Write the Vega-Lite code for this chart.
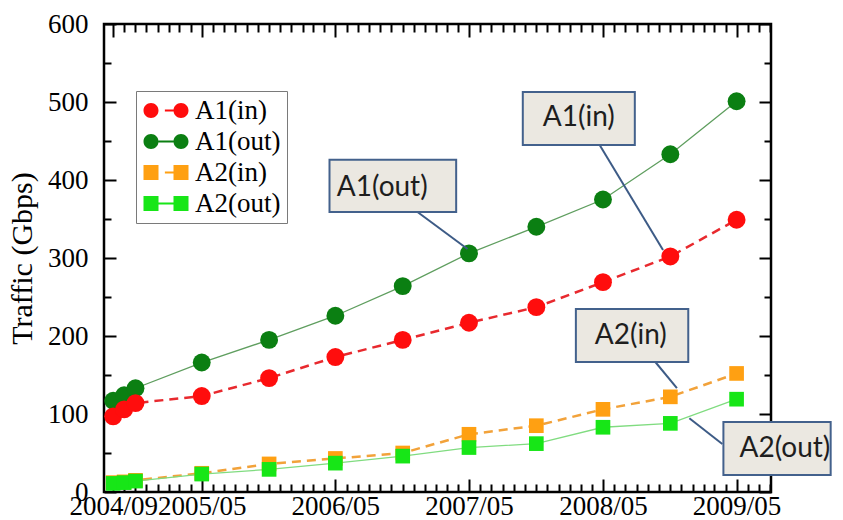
{
  "$schema": "https://vega.github.io/schema/vega-lite/v6.json",
  "width": 667,
  "height": 468,
  "autosize": {"type": "none"},
  "padding": {"left": 104, "top": 24, "right": 72, "bottom": 28},
  "background": "white",
  "config": {
    "view": {"stroke": "black", "strokeWidth": 2.5},
    "axis": {
      "labelFont": "Liberation Serif",
      "labelFontSize": 27,
      "labelColor": "black",
      "tickColor": "black",
      "tickWidth": 2,
      "domain": false,
      "grid": false,
      "titleFont": "Liberation Serif",
      "titleFontWeight": "normal",
      "titleColor": "black"
    },
    "legend": {
      "padding": 6, "symbolOffset": 10.5, "labelOffset": 15.5, "symbolSize": 225, "rowPadding": 3,
      "symbolOpacity": 1,
      "labelFont": "Liberation Serif", "labelFontSize": 27, "labelColor": "black",
      "strokeColor": "#7a7a7a", "fillColor": "white"
    }
  },
  "datasets": {
    "traffic": [
      {"series": "A1(out)", "date": "2004/09/01", "traffic": 117},
      {"series": "A1(out)", "date": "2004/10/01", "traffic": 124},
      {"series": "A1(out)", "date": "2004/11/01", "traffic": 133},
      {"series": "A1(out)", "date": "2005/05/01", "traffic": 166},
      {"series": "A1(out)", "date": "2005/11/01", "traffic": 195},
      {"series": "A1(out)", "date": "2006/05/01", "traffic": 226},
      {"series": "A1(out)", "date": "2006/11/01", "traffic": 264},
      {"series": "A1(out)", "date": "2007/05/01", "traffic": 306},
      {"series": "A1(out)", "date": "2007/11/01", "traffic": 340},
      {"series": "A1(out)", "date": "2008/05/01", "traffic": 375},
      {"series": "A1(out)", "date": "2008/11/01", "traffic": 433},
      {"series": "A1(out)", "date": "2009/05/01", "traffic": 501},
      {"series": "A1(in)", "date": "2004/09/01", "traffic": 97},
      {"series": "A1(in)", "date": "2004/10/01", "traffic": 106},
      {"series": "A1(in)", "date": "2004/11/01", "traffic": 114},
      {"series": "A1(in)", "date": "2005/05/01", "traffic": 123},
      {"series": "A1(in)", "date": "2005/11/01", "traffic": 146},
      {"series": "A1(in)", "date": "2006/05/01", "traffic": 173},
      {"series": "A1(in)", "date": "2006/11/01", "traffic": 195},
      {"series": "A1(in)", "date": "2007/05/01", "traffic": 217},
      {"series": "A1(in)", "date": "2007/11/01", "traffic": 237},
      {"series": "A1(in)", "date": "2008/05/01", "traffic": 269},
      {"series": "A1(in)", "date": "2008/11/01", "traffic": 302},
      {"series": "A1(in)", "date": "2009/05/01", "traffic": 349},
      {"series": "A2(in)", "date": "2004/09/01", "traffic": 12},
      {"series": "A2(in)", "date": "2004/10/01", "traffic": 13},
      {"series": "A2(in)", "date": "2004/11/01", "traffic": 15},
      {"series": "A2(in)", "date": "2005/05/01", "traffic": 24},
      {"series": "A2(in)", "date": "2005/11/01", "traffic": 36},
      {"series": "A2(in)", "date": "2006/05/01", "traffic": 43},
      {"series": "A2(in)", "date": "2006/11/01", "traffic": 50},
      {"series": "A2(in)", "date": "2007/05/01", "traffic": 74},
      {"series": "A2(in)", "date": "2007/11/01", "traffic": 85},
      {"series": "A2(in)", "date": "2008/05/01", "traffic": 106},
      {"series": "A2(in)", "date": "2008/11/01", "traffic": 122},
      {"series": "A2(in)", "date": "2009/05/01", "traffic": 152},
      {"series": "A2(out)", "date": "2004/09/01", "traffic": 11},
      {"series": "A2(out)", "date": "2004/10/01", "traffic": 12},
      {"series": "A2(out)", "date": "2004/11/01", "traffic": 14},
      {"series": "A2(out)", "date": "2005/05/01", "traffic": 23},
      {"series": "A2(out)", "date": "2005/11/01", "traffic": 29},
      {"series": "A2(out)", "date": "2006/05/01", "traffic": 37},
      {"series": "A2(out)", "date": "2006/11/01", "traffic": 46},
      {"series": "A2(out)", "date": "2007/05/01", "traffic": 57},
      {"series": "A2(out)", "date": "2007/11/01", "traffic": 62},
      {"series": "A2(out)", "date": "2008/05/01", "traffic": 83},
      {"series": "A2(out)", "date": "2008/11/01", "traffic": 88},
      {"series": "A2(out)", "date": "2009/05/01", "traffic": 119}
    ],
    "one": [{}]
  },
  "layer": [
    {
      "data": {"name": "traffic"},
      "transform": [{"filter": "datum.series == 'A1(in)' || datum.series == 'A2(in)'"}],
      "mark": {"type": "line", "strokeWidth": 2.5, "strokeDash": [9, 6]},
      "encoding": {
        "x": {
          "field": "date", "type": "temporal",
          "scale": {"domain": [{"year": 2004, "month": 8, "date": 7}, {"year": 2009, "month": 8, "date": 3}]},
          "axis": {
            "orient": "bottom", "title": null,
            "tickCount": {"interval": "month", "step": 1},
            "labelExpr": "(month(datum.value)==4 || (year(datum.value)==2004 && month(datum.value)==8)) ? timeFormat(datum.value, '%Y/%m') : ''",
            "tickSize": {"condition": {"test": "month(datum.value)==4 || (year(datum.value)==2004 && month(datum.value)==8)", "value": -13}, "value": -8},
            "labelPadding": 14, "labelOverlap": false, "labelFlush": false
          }
        },
        "y": {
          "field": "traffic", "type": "quantitative",
          "scale": {"domain": [0, 600]},
          "axis": {
            "orient": "left", "title": "Traffic (Gbps)", "titleFontSize": 30, "titlePadding": 10,
            "values": [0, 50, 100, 150, 200, 250, 300, 350, 400, 450, 500, 550, 600],
            "labelExpr": "datum.value % 100 == 0 ? datum.label : ''",
            "tickSize": {"condition": {"test": "datum.value % 100 == 0", "value": -12}, "value": -7},
            "labelPadding": 28, "labelOverlap": false, "labelFlush": false
          }
        },
        "stroke": {
          "field": "series", "type": "nominal",
          "scale": {"range": ["#e8292e", "#5f9e5f", "#f2a23a", "#80dc80"]},
          "legend": null
        }
      }
    },
    {
      "data": {"name": "traffic"},
      "transform": [{"filter": "datum.series == 'A1(out)' || datum.series == 'A2(out)'"}],
      "mark": {"type": "line", "strokeWidth": 1.3},
      "encoding": {
        "x": {"field": "date", "type": "temporal", "axis": null},
        "y": {"field": "traffic", "type": "quantitative", "axis": null},
        "stroke": {"field": "series", "type": "nominal", "legend": null}
      }
    },
    {
      "data": {"name": "traffic"},
      "transform": [{"filter": "datum.series == 'A1(out)' || datum.series == 'A1(in)'"}],
      "mark": {"type": "point", "shape": "circle", "filled": true, "opacity": 1, "size": 320},
      "encoding": {
        "x": {"field": "date", "type": "temporal", "axis": null},
        "y": {"field": "traffic", "type": "quantitative", "axis": null},
        "fill": {
          "field": "series", "type": "nominal",
          "scale": {"range": ["#ff0d0d", "#0b7f12", "#ffa012", "#17e617"]},
          "legend": null
        }
      }
    },
    {
      "data": {"name": "traffic"},
      "transform": [{"filter": "datum.series == 'A2(in)' || datum.series == 'A2(out)'"}],
      "mark": {"type": "point", "shape": "square", "filled": true, "opacity": 1, "size": 215},
      "encoding": {
        "x": {"field": "date", "type": "temporal", "axis": null},
        "y": {"field": "traffic", "type": "quantitative", "axis": null},
        "fill": {"field": "series", "type": "nominal", "legend": null}
      }
    },
    {
      "data": {"name": "traffic"},
      "mark": {"type": "point", "filled": true, "opacity": 0, "size": 225},
      "encoding": {
        "x": {"field": "date", "type": "temporal", "axis": null},
        "y": {"field": "traffic", "type": "quantitative", "axis": null},
        "color": {
          "field": "series", "type": "nominal",
          "scale": {"domain": ["A1(in)", "A1(out)", "A2(in)", "A2(out)"], "range": ["#ff0d0d", "#0b7f12", "#ffa012", "#17e617"]},
          "legend": {"orient": "none", "legendX": 32, "legendY": 67, "title": null, "direction": "vertical", "symbolOpacity": 1}
        },
        "shape": {
          "field": "series", "type": "nominal",
          "scale": {
            "domain": ["A1(in)", "A1(out)", "A2(in)", "A2(out)"],
            "range": [
              "M-3,0A1,1,0,1,1,-1,0A1,1,0,1,1,-3,0ZM1,0A1,1,0,1,1,3,0A1,1,0,1,1,1,0ZM-0.15,-0.13L1,-0.13L1,0.13L-0.15,0.13Z",
              "M-3,0A1,1,0,1,1,-1,0A1,1,0,1,1,-3,0ZM1,0A1,1,0,1,1,3,0A1,1,0,1,1,1,0ZM-1,-0.13L1,-0.13L1,0.13L-1,0.13Z",
              "M-3,-1L-1,-1L-1,1L-3,1ZM1,-1L3,-1L3,1L1,1ZM-0.15,-0.13L1,-0.13L1,0.13L-0.15,0.13Z",
              "M-3,-1L-1,-1L-1,1L-3,1ZM1,-1L3,-1L3,1L1,1ZM-1,-0.13L1,-0.13L1,0.13L-1,0.13Z"
            ]
          },
          "legend": {"orient": "none", "legendX": 32, "legendY": 67, "title": null, "direction": "vertical", "symbolOpacity": 1}
        }
      }
    },
    {
      "data": {"name": "one"},
      "mark": {"type": "rule", "color": "#3d5b86", "strokeWidth": 2},
      "encoding": {
        "x": {"datum": {"year": 2006, "month": 12, "date": 4}, "type": "temporal", "axis": null},
        "y": {"datum": 361.5, "type": "quantitative", "axis": null},
        "x2": {"datum": {"year": 2007, "month": 4, "date": 27}},
        "y2": {"datum": 311.5}
      }
    },
    {
      "data": {"name": "one"},
      "mark": {"type": "rule", "color": "#3d5b86", "strokeWidth": 2},
      "encoding": {
        "x": {"datum": {"year": 2008, "month": 4, "date": 17}, "type": "temporal", "axis": null},
        "y": {"datum": 448.7, "type": "quantitative", "axis": null},
        "x2": {"datum": {"year": 2008, "month": 10, "date": 12}},
        "y2": {"datum": 310.3}
      }
    },
    {
      "data": {"name": "one"},
      "mark": {"type": "rule", "color": "#3d5b86", "strokeWidth": 2},
      "encoding": {
        "x": {"datum": {"year": 2008, "month": 9, "date": 12}, "type": "temporal", "axis": null},
        "y": {"datum": 171.8, "type": "quantitative", "axis": null},
        "x2": {"datum": {"year": 2008, "month": 11, "date": 19}},
        "y2": {"datum": 133.3}
      }
    },
    {
      "data": {"name": "one"},
      "mark": {"type": "rule", "color": "#3d5b86", "strokeWidth": 2},
      "encoding": {
        "x": {"datum": {"year": 2008, "month": 12, "date": 23}, "type": "temporal", "axis": null},
        "y": {"datum": 94.5, "type": "quantitative", "axis": null},
        "x2": {"datum": {"year": 2009, "month": 3, "date": 23}},
        "y2": {"datum": 61.5}
      }
    },
    {
      "data": {"name": "one"},
      "mark": {"type": "rect", "fill": "#ebe8e1", "stroke": "#43618c", "strokeWidth": 2},
      "encoding": {
        "x": {
          "datum": {"year": 2006, "month": 4, "date": 15}, "type": "temporal",
          "axis": {
            "orient": "top", "title": null, "labels": false,
            "tickCount": {"interval": "month", "step": 1},
            "tickSize": {"condition": {"test": "month(datum.value)==4 || (year(datum.value)==2004 && month(datum.value)==8)", "value": -13}, "value": -8}
          }
        },
        "x2": {"datum": {"year": 2007, "month": 3, "date": 27}},
        "y": {
          "datum": 426, "type": "quantitative",
          "axis": {
            "orient": "right", "title": null, "labels": false,
            "values": [0, 50, 100, 150, 200, 250, 300, 350, 400, 450, 500, 550, 600],
            "tickSize": {"condition": {"test": "datum.value % 100 == 0", "value": -12}, "value": -7}
          }
        },
        "y2": {"datum": 359}
      }
    },
    {
      "data": {"name": "one"},
      "mark": {"type": "rect", "fill": "#ebe8e1", "stroke": "#43618c", "strokeWidth": 2},
      "encoding": {
        "x": {"datum": {"year": 2007, "month": 9, "date": 25}, "type": "temporal", "axis": null},
        "x2": {"datum": {"year": 2008, "month": 7, "date": 27}},
        "y": {"datum": 512.8, "type": "quantitative", "axis": null},
        "y2": {"datum": 444.9}
      }
    },
    {
      "data": {"name": "one"},
      "mark": {"type": "rect", "fill": "#ebe8e1", "stroke": "#43618c", "strokeWidth": 2},
      "encoding": {
        "x": {"datum": {"year": 2008, "month": 2, "date": 17}, "type": "temporal", "axis": null},
        "x2": {"datum": {"year": 2008, "month": 12, "date": 20}},
        "y": {"datum": 234.6, "type": "quantitative", "axis": null},
        "y2": {"datum": 166.7}
      }
    },
    {
      "data": {"name": "one"},
      "mark": {"type": "rect", "fill": "#ebe8e1", "stroke": "#43618c", "strokeWidth": 2},
      "encoding": {
        "x": {"datum": {"year": 2009, "month": 3, "date": 26}, "type": "temporal", "axis": null},
        "x2": {"datum": {"year": 2010, "month": 1, "date": 13}},
        "y": {"datum": 89.7, "type": "quantitative", "axis": null},
        "y2": {"datum": 21.8}
      }
    },
    {
      "data": {"name": "one"},
      "mark": {"type": "text", "font": "Lato", "fontSize": 28, "color": "#1e1e1e", "align": "center", "baseline": "middle"},
      "encoding": {
        "x": {"datum": {"year": 2006, "month": 9, "date": 6}, "type": "temporal", "axis": null},
        "y": {"datum": 390, "type": "quantitative", "axis": null},
        "text": {"value": "A1(out)"}
      }
    },
    {
      "data": {"name": "one"},
      "mark": {"type": "text", "font": "Lato", "fontSize": 28, "color": "#1e1e1e", "align": "center", "baseline": "middle"},
      "encoding": {
        "x": {"datum": {"year": 2008, "month": 2, "date": 25}, "type": "temporal", "axis": null},
        "y": {"datum": 479, "type": "quantitative", "axis": null},
        "text": {"value": "A1(in)"}
      }
    },
    {
      "data": {"name": "one"},
      "mark": {"type": "text", "font": "Lato", "fontSize": 28, "color": "#1e1e1e", "align": "center", "baseline": "middle"},
      "encoding": {
        "x": {"datum": {"year": 2008, "month": 7, "date": 16}, "type": "temporal", "axis": null},
        "y": {"datum": 200, "type": "quantitative", "axis": null},
        "text": {"value": "A2(in)"}
      }
    },
    {
      "data": {"name": "one"},
      "mark": {"type": "text", "font": "Lato", "fontSize": 28, "color": "#1e1e1e", "align": "center", "baseline": "middle"},
      "encoding": {
        "x": {"datum": {"year": 2009, "month": 9, "date": 10}, "type": "temporal", "axis": null},
        "y": {"datum": 55, "type": "quantitative", "axis": null},
        "text": {"value": "A2(out)"}
      }
    }
  ],
  "resolve": {"axis": {"x": "independent", "y": "independent"}}
}
